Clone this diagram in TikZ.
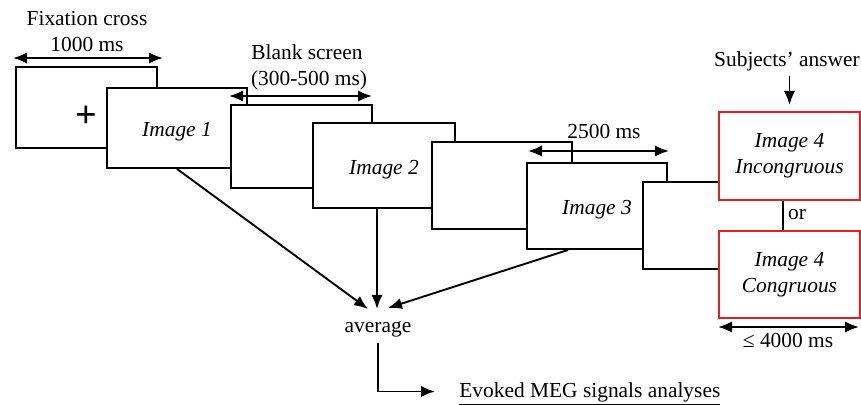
\documentclass[tikz,border=0pt]{standalone}
\usepackage{fontspec}
\setmainfont{Liberation Serif}
\usetikzlibrary{arrows.meta,calc}
\definecolor{ansred}{RGB}{230,30,34}
\begin{document}
\begin{tikzpicture}[x=0.5pt,y=-0.5pt,
  font=\fontsize{10.7}{12.8}\selectfont,
  scr/.style={draw, fill=white, line width=0.95pt, inner sep=0pt, text height=11pt, text depth=2pt, font=\fontsize{10.7}{12.8}\selectfont\itshape},
  ans/.style={draw=ansred, fill=white, line width=1pt, inner sep=0pt, align=center, minimum width=70.5pt, font=\fontsize{10.7}{12.8}\selectfont\itshape},
  lbl/.style={inner sep=0pt, anchor=base},
  tip/.style={-{Latex[length=7pt,width=5.6pt]}, line width=0.95pt},
  dbl/.style={{Latex[length=7pt,width=5.6pt]}-{Latex[length=7pt,width=5.6pt]}, line width=0.95pt}]
\useasboundingbox (0,0) rectangle (861,405);

% screens
\node[scr, minimum width=70.5pt, minimum height=40.5pt] (fixscr) at (86.5,107.5) {};
\node[font=\fontsize{19}{19}\selectfont\bfseries, inner sep=0pt] (cross) at (86,117) {+};
\node[scr, minimum width=70pt, minimum height=40pt] (img1) at (177,128) {Image 1};
\node[scr, minimum width=70.5pt, minimum height=41.5pt] (blank1) at (301.5,146.5) {};
\node[scr, minimum width=71pt, minimum height=42.5pt] (img2) at (384,165.5) {Image 2};
\node[scr, minimum width=70pt, minimum height=43.5pt] (blank2) at (502,185.5) {};
\node[scr, minimum width=70pt, minimum height=43pt] (img3) at (597,206) {Image 3};
\node[scr, minimum width=70pt, minimum height=43.5pt] (blank3) at (713,225.5) {};
\node[ans, minimum height=44pt] (inc) at (789.5,156) {Image 4\\Incongruous};
\node[ans, minimum height=43.5pt] (con) at (789.5,274.5) {Image 4\\Congruous};

% labels
\node[lbl] (fix) at (87,26) {Fixation cross};
\node[lbl] (fixt) at (87,52) {1000 ms};
\node[lbl] (blank) at (307,60) {Blank screen};
\node[lbl] (blankt) at (309,86) {(300-500 ms)};
\node[lbl] (stim) at (604,139) {2500 ms};
\node[lbl] (subj) at (787,67) {Subjects’ answer};
\node[lbl] (or) at (797,220) {or};
\node[lbl] (lim) at (788,348) {≤ 4000 ms};
\node[lbl] (avg) at (378,333) {average};
\node[lbl, anchor=base west] (evk) at (459,397) {\underline{Evoked MEG signals analyses}};

% timing arrows
\coordinate (fixA) at (13,58);  \coordinate (fixB) at (163,58);
\coordinate (blA) at (229,96);  \coordinate (blB) at (372,96);
\coordinate (stA) at (528,151); \coordinate (stB) at (669,151);
\coordinate (lmA) at (718,327); \coordinate (lmB) at (859,327);
\draw[dbl] (fixA) -- (fixB);
\draw[dbl] (blA) -- (blB);
\draw[dbl] (stA) -- (stB);
\draw[dbl] (lmA) -- (lmB);

% answer arrow and "or" link
\draw[tip, shorten <=2.2pt, shorten >=3pt] (subj.south -| inc.north) -- (inc.north);
\draw[line width=0.95pt] ([xshift=-3.25pt]inc.south) -- ([xshift=-3.25pt]con.north);

% averaging
\coordinate (tL) at (368,309);
\coordinate (tM) at (377,309);
\coordinate (tR) at (388,308);
\draw[tip] (img1.south) -- (tL);
\draw[tip] ([xshift=-3.5pt]img2.south) -- (tM);
\draw[tip] ([xshift=-14.5pt]img3.south) -- (tR);
\draw[tip] ([yshift=-2.7pt]avg.south) |- ([xshift=-12pt,yshift=1.2pt]evk.west);
\end{tikzpicture}
\end{document}
